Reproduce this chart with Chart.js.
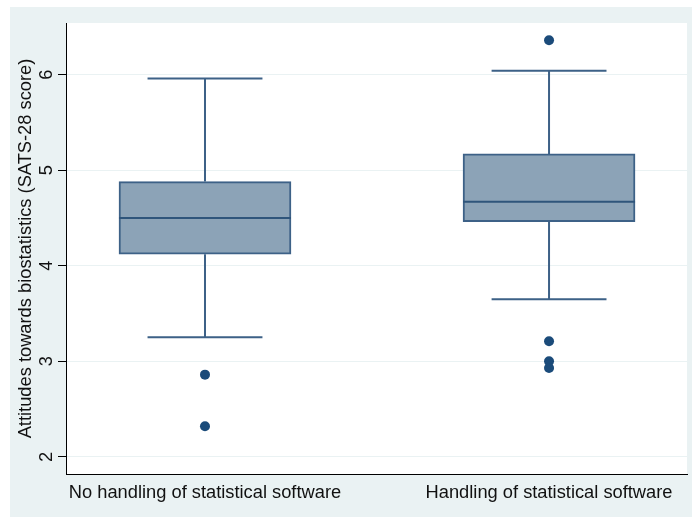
<!DOCTYPE html>
<html>
<head>
<meta charset="utf-8">
<script src="https://cdn.jsdelivr.net/npm/chart.js@4.4.1/dist/chart.umd.min.js"></script>
<style>
  body { margin: 0; background: #ffffff; }
  #wrap { width: 692px; height: 517px; }
</style>
</head>
<body>
<div id="wrap"><canvas id="boxChart" width="692" height="517"></canvas></div>
<script>
// groups and their five-number summaries
let groups = ["No handling of statistical software", "Handling of statistical software"];
let lowerWhisker = [3.25, 3.65];
let q1 = [4.12, 4.46];
let median = [4.50, 4.67];
let q3 = [4.88, 5.17];
let upperWhisker = [5.96, 6.04];
let outliers = [
    [2.86, 2.32],
    [6.36, 3.21, 3.00, 2.93]
];
let yTicks = [2, 3, 4, 5, 6];

let boxColor = "#8ca3b7";
let lineColor = "#3d6187";
let dotColor = "#1b4b7a";
let capHalf = 0.167;
let boxHalf = 0.25;

// build datasets from the arrays
let boxData = groups.map((g, i) => ({ x: i + 1, y: [q1[i], q3[i]] }));

let whiskerData = [];
let medianData = [];
let outlierData = [];
groups.forEach((g, i) => {
    let x = i + 1;
    whiskerData.push({ x: x, y: q3[i] }, { x: x, y: upperWhisker[i] }, { x: x, y: null });
    whiskerData.push({ x: x - capHalf, y: upperWhisker[i] }, { x: x + capHalf, y: upperWhisker[i] }, { x: x, y: null });
    whiskerData.push({ x: x, y: q1[i] }, { x: x, y: lowerWhisker[i] }, { x: x, y: null });
    whiskerData.push({ x: x - capHalf, y: lowerWhisker[i] }, { x: x + capHalf, y: lowerWhisker[i] }, { x: x, y: null });
    medianData.push({ x: x - boxHalf, y: median[i] }, { x: x + boxHalf, y: median[i] }, { x: x, y: null });
    outliers[i].forEach(v => outlierData.push({ x: x, y: v }));
});

let backdrop = {
    id: "backdrop",
    beforeDraw(chart) {
        let ctx = chart.ctx;
        let a = chart.chartArea;
        ctx.save();
        ctx.fillStyle = "#ffffff";
        ctx.fillRect(0, 0, chart.width, chart.height);
        ctx.fillStyle = "#eaf2f3";
        ctx.fillRect(10, 7, chart.width - 10, chart.height - 7);
        ctx.fillStyle = "#ffffff";
        ctx.fillRect(a.left, a.top, a.right - a.left, a.bottom - a.top);
        ctx.restore();
    }
};

let ctx = document.getElementById("boxChart").getContext("2d");

new Chart(ctx, {
    type: "bar",
    data: {
        datasets: [
            {
                label: "box",
                data: boxData,
                backgroundColor: boxColor,
                borderColor: lineColor,
                borderWidth: 2,
                borderSkipped: false,
                barThickness: 172,
                order: 4
            },
            {
                type: "line",
                label: "whiskers",
                data: whiskerData,
                borderColor: lineColor,
                borderWidth: 2,
                pointRadius: 0,
                spanGaps: false,
                fill: false,
                order: 3
            },
            {
                type: "line",
                label: "median",
                data: medianData,
                borderColor: "#2f557b",
                borderWidth: 2,
                pointRadius: 0,
                spanGaps: false,
                fill: false,
                order: 2
            },
            {
                type: "line",
                label: "outliers",
                data: outlierData,
                showLine: false,
                pointRadius: 5,
                pointBackgroundColor: dotColor,
                pointBorderColor: dotColor,
                pointBorderWidth: 0,
                order: 1
            }
        ]
    },
    options: {
        responsive: false,
        animation: false,
        layout: { padding: { left: 10, top: 23, right: 5, bottom: 0 } },
        plugins: {
            legend: { display: false },
            tooltip: { enabled: false }
        },
        scales: {
            x: {
                type: "linear",
                min: 0.596,
                max: 2.401,
                offset: false,
                grid: { display: false, drawTicks: false, offset: false },
                border: { display: true, color: "#000000", width: 1 },
                afterBuildTicks: scale => {
                    scale.ticks = groups.map((g, i) => ({ value: i + 1 }));
                },
                afterFit: scale => { scale.height = 43; },
                ticks: {
                    autoSkip: false,
                    maxRotation: 0,
                    padding: 8,
                    color: "#111111",
                    font: { family: "Liberation Sans", size: 18.3 },
                    callback: v => groups[v - 1]
                }
            },
            y: {
                min: 1.82,
                max: 6.54,
                afterBuildTicks: scale => {
                    scale.ticks = yTicks.map(v => ({ value: v }));
                },
                afterFit: scale => { scale.width = 56; },
                grid: { color: "#eaf2f3", tickColor: "#000000", tickLength: 8, lineWidth: 1 },
                border: { display: true, color: "#000000", width: 1 },
                ticks: {
                    minRotation: 90,
                    maxRotation: 90,
                    crossAlign: "center",
                    padding: 6,
                    color: "#111111",
                    font: { family: "Liberation Sans", size: 18.3 }
                },
                title: {
                    display: true,
                    text: "Attitudes towards biostatistics (SATS-28 score)",
                    color: "#111111",
                    padding: { top: 5, bottom: 0 },
                    font: { family: "Liberation Sans", size: 18.3 }
                }
            }
        }
    },
    plugins: [backdrop]
});
</script>
</body>
</html>
